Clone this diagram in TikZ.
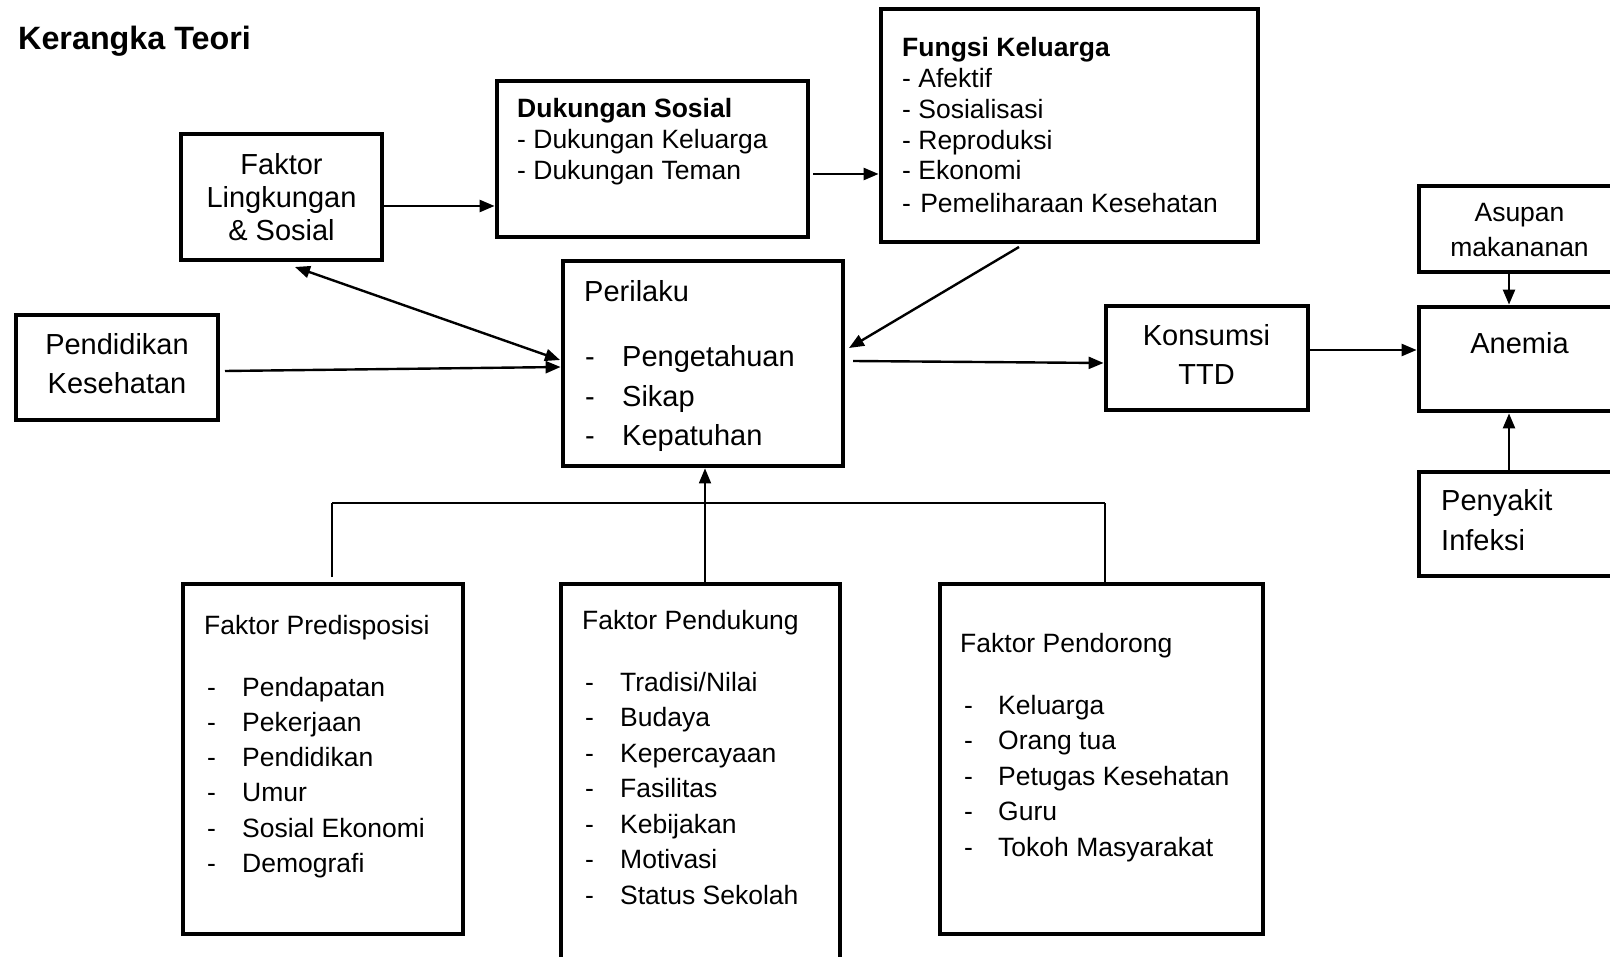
\documentclass[tikz,border=0pt]{standalone}
\usepackage{fontspec}
\setmainfont{Liberation Sans}
\usetikzlibrary{arrows.meta}
\begin{document}
\begin{tikzpicture}[x=1pt,y=-1pt,
  box/.style={draw,line width=4.8pt,inner sep=0pt},
  tA/.style={font=\fontsize{29}{33}\selectfont,inner sep=0pt},
  tB/.style={font=\fontsize{26.5}{31}\selectfont,inner sep=0pt},
  tBb/.style={font=\bfseries\fontsize{26.5}{31}\selectfont,inner sep=0pt},
  conn/.style={line width=2.4pt,-{Triangle[length=15pt,width=12pt]}},
  conn2/.style={line width=2.4pt,{Triangle[length=15pt,width=12pt]}-{Triangle[length=15pt,width=12pt]}},
  brk/.style={line width=2.4pt},
  brkv/.style={line width=1.6pt}]
\clip (0,0) rectangle (1610,957);
\fill[white] (0,0) rectangle (1610,957);

% title
\node[font=\bfseries\fontsize{32.3}{37}\selectfont,inner sep=0pt,anchor=base west] (title) at (18,50) {Kerangka Teori};

% boxes
\node[box,minimum width=201pt,minimum height=126pt] (FL) at (281.5,197) {};
\node[box,minimum width=311pt,minimum height=156pt] (DS) at (652.5,159) {};
\node[box,minimum width=377pt,minimum height=233pt] (FK) at (1069.5,125.5) {};
\node[box,minimum width=202pt,minimum height=105pt] (PK) at (117,367.5) {};
\node[box,minimum width=280pt,minimum height=205pt] (PR) at (703,363.5) {};
\node[box,minimum width=202pt,minimum height=104pt] (KT) at (1207,358) {};
\node[box,minimum width=202pt,minimum height=86pt] (AS) at (1520,229) {};
\node[box,minimum width=202pt,minimum height=104pt] (AN) at (1520,359) {};
\node[box,minimum width=202pt,minimum height=104pt] (PI) at (1520,524) {};
\node[box,minimum width=280pt,minimum height=350pt] (FPr) at (323,759) {};
\node[box,minimum width=279pt,minimum height=406pt] (FPd) at (700.5,787) {};
\node[box,minimum width=323pt,minimum height=350pt] (FPo) at (1101.5,759) {};

% texts
\node[tA,anchor=base] (fl1) at (281.5,175) {Faktor};
\node[tA,anchor=base] (fl2) at (281.5,208) {Lingkungan};
\node[tA,anchor=base] (fl3) at (281.5,241) {\& Sosial};

\node[tA,anchor=base] (pk1) at (117,355) {Pendidikan};
\node[tA,anchor=base] (pk2) at (117,394) {Kesehatan};

\node[tBb,anchor=base west] (ds1) at (517,118) {Dukungan Sosial};
\node[tB,anchor=base west] (ds2) at (517,149) {- Dukungan Keluarga};
\node[tB,anchor=base west] (ds3) at (517,180) {- Dukungan Teman};

\node[tBb,anchor=base west] (fk1) at (902,57) {Fungsi Keluarga};
\node[tB,anchor=base west] (fk2) at (902,88) {- Afektif};
\node[tB,anchor=base west] (fk3) at (902,119) {- Sosialisasi};
\node[tB,anchor=base west] (fk4) at (902,150) {- Reproduksi};
\node[tB,anchor=base west] (fk5) at (902,180) {- Ekonomi};
\node[tB,anchor=base west] (fk6) at (902,213) {-\hspace{0.35em}Pemeliharaan Kesehatan};

\node[tA,anchor=base west] (pr0) at (584,302) {Perilaku};
\node[tA,anchor=base west] (prd1) at (585,367) {-};
\node[tA,anchor=base west] (pri1) at (622,367) {Pengetahuan};
\node[tA,anchor=base west] (prd2) at (585,407) {-};
\node[tA,anchor=base west] (pri2) at (622,407) {Sikap};
\node[tA,anchor=base west] (prd3) at (585,446) {-};
\node[tA,anchor=base west] (pri3) at (622,446) {Kepatuhan};

\node[tA,anchor=base] (kt1) at (1206.5,346) {Konsumsi};
\node[tA,anchor=base] (kt2) at (1206.5,385) {TTD};

\node[tB,anchor=base] (as1) at (1519.5,222) {Asupan};
\node[tB,anchor=base] (as2) at (1519.5,257) {makananan};

\node[tA,anchor=base] (an1) at (1519.5,354) {Anemia};

\node[tA,anchor=base west] (pi1) at (1441,511) {Penyakit};
\node[tA,anchor=base west] (pi2) at (1441,550) {Infeksi};

\node[tB,anchor=base west] (fpr0) at (204,634) {Faktor Predisposisi};
\foreach \t [count=\i] in {Pendapatan,Pekerjaan,Pendidikan,Umur,Sosial Ekonomi,Demografi}{
  \node[tB,anchor=base west] (fprd\i) at (207,{696+35.3*(\i-1)}) {-};
  \node[tB,anchor=base west] (fpri\i) at (242,{696+35.3*(\i-1)}) {\t};
}
\node[tB,anchor=base west] (fpd0) at (582,629) {Faktor Pendukung};
\foreach \t [count=\i] in {Tradisi/Nilai,Budaya,Kepercayaan,Fasilitas,Kebijakan,Motivasi,Status Sekolah}{
  \node[tB,anchor=base west] (fpdd\i) at (585,{691+35.5*(\i-1)}) {-};
  \node[tB,anchor=base west] (fpdi\i) at (620,{691+35.5*(\i-1)}) {\t};
}
\node[tB,anchor=base west] (fpo0) at (960,652) {Faktor Pendorong};
\foreach \t [count=\i] in {Keluarga,Orang tua,Petugas Kesehatan,Guru,Tokoh Masyarakat}{
  \node[tB,anchor=base west] (fpod\i) at (964,{714+35.5*(\i-1)}) {-};
  \node[tB,anchor=base west] (fpoi\i) at (998,{714+35.5*(\i-1)}) {\t};
}

% connector coordinates
\coordinate (c1) at (813,174);
\coordinate (c2) at (1019,247);
\coordinate (c3) at (849,348);
\coordinate (c4) at (295,267);
\coordinate (c5) at (560,360);
\coordinate (c6) at (225,371);
\coordinate (c7) at (853,361);
\coordinate (bL) at (332,503);
\coordinate (bM) at (705,503);
\coordinate (bR) at (1105,503);
\coordinate (bLd) at (332,577);

% connectors
\draw[conn] (FL.east |- 0,206) -- (DS.west |- 0,206);
\draw[conn] (c1) -- (FK.west |- c1);
\draw[conn] (c2) -- (c3);
\draw[conn2] (c4) -- (c5);
\draw[conn] (c6) -- (PR.west |- 0,367);
\draw[conn] (c7) -- (KT.west |- 0,363);
\draw[conn] (KT.east |- 0,350) -- (AN.west |- 0,350);
\draw[conn] (AS.south -| 1509,0) -- (AN.north -| 1509,0);
\draw[conn] (PI.north -| 1509,0) -- (AN.south -| 1509,0);

\draw[brk] (bL) -- (bR);
\draw[brkv] (bLd) -- (bL);
\draw[brkv] (FPd.north -| bM) -- (bM);
\draw[brkv] (FPo.north -| bR) -- (bR);
\draw[conn,line width=1.8pt] (bM) -- (PR.south -| bM);
\end{tikzpicture}
\end{document}
